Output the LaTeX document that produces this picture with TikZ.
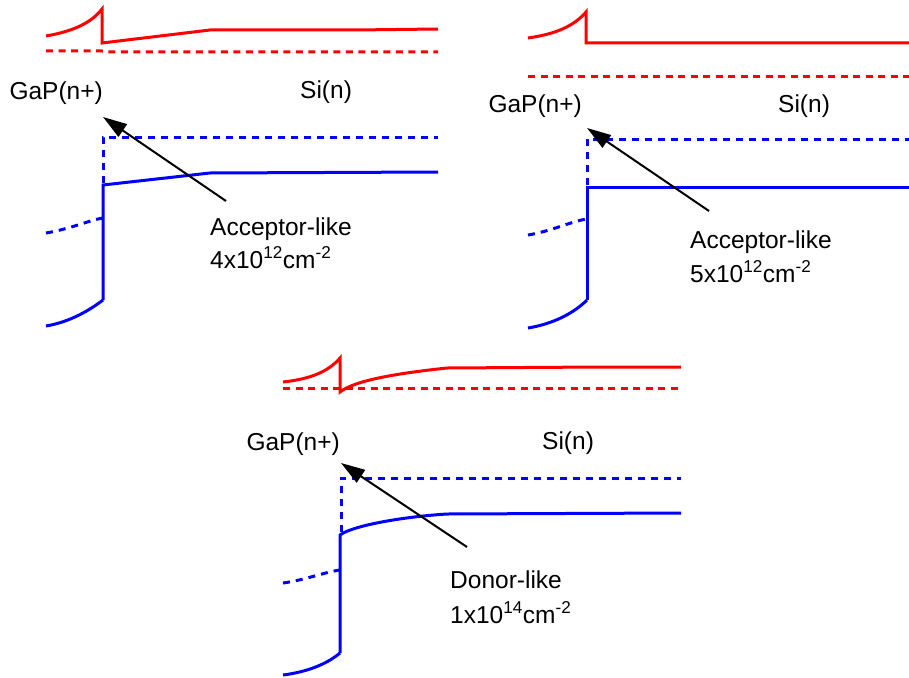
\documentclass[tikz,border=0pt]{standalone}
\usepackage{fontspec}
\setmainfont{Liberation Sans}
\usetikzlibrary{arrows.meta}
\tikzset{
  cb/.style={red, line width=3pt, line join=miter},
  cbd/.style={red, line width=3pt, dash pattern=on 7pt off 5.5pt},
  vb/.style={blue, line width=3pt},
  vbd/.style={blue, line width=3pt, dash pattern=on 7pt off 6pt},
  lbl/.style={inner sep=0pt, font=\fontsize{24.5}{29}\selectfont},
  ptr/.style={black, line width=2pt, -{Triangle[length=24pt,width=15pt]}}
}
\begin{document}
\begin{tikzpicture}[x=1pt,y=-1pt]
\useasboundingbox (0,0) rectangle (909,677);
% ---------------- Panel 1 ----------------
\draw[cb] (46,36) .. controls (75,31) and (92,22) .. (102,9) -- (102,43) -- (210,30) -- (355,30) -- (438,29);
\draw[cbd] (46,51) -- (102,51) -- (108,52) -- (438,52);
\draw[vbd] (103,183) -- (103,137) -- (438,137);
\draw[vb] (103,300) -- (103,185) -- (210,173) -- (438,172);
\draw[vbd] (46,233) .. controls (70,229) and (90,220) .. (103,218);
\draw[vb] (46,326) .. controls (70,322) and (90,310) .. (103,300);
\node[lbl, anchor=base east] (gap1) at (103,99) {GaP(n+)};
\node[lbl, anchor=base west] (si1) at (300,98) {Si(n)};
\node[lbl, anchor=base west] (acc1) at (210,235) {Acceptor-like};
\node[lbl, anchor=base west] (den1) at (210,268) {4x10\textsuperscript{12}cm\textsuperscript{-2}};
\coordinate (t1) at (226,201);
\coordinate (h1) at (103,117);
\draw[ptr] (t1) -- (h1);
% ---------------- Panel 2 ----------------
\draw[cb] (528,38) .. controls (556,34) and (574,26) .. (586,12) -- (586,43) -- (909,43);
\draw[cbd] (528,76) -- (909,76);
\draw[vbd] (587,185) -- (587,139) -- (909,139);
\draw[vb] (587,300) -- (587,187) -- (909,187);
\draw[vbd] (528,235) .. controls (552,231) and (572,221) .. (587,219);
\draw[vb] (528,328) .. controls (552,324) and (573,314) .. (587,300);
\node[lbl, anchor=base east] (gap2) at (582,112) {GaP(n+)};
\node[lbl, anchor=base west] (si2) at (778,112) {Si(n)};
\node[lbl, anchor=base west] (acc2) at (690,248) {Acceptor-like};
\node[lbl, anchor=base west] (den2) at (690,282) {5x10\textsuperscript{12}cm\textsuperscript{-2}};
\coordinate (t2) at (709,211);
\coordinate (h2) at (587,128);
\draw[ptr] (t2) -- (h2);
% ---------------- Panel 3 ----------------
\draw[cb] (283,382) .. controls (310,379) and (328,372) .. (340,358) -- (340,392) .. controls (355,380) and (400,373) .. (447,368) -- (600,367) -- (681,367);
\draw[cbd] (283,388) -- (681,388);
\draw[vbd] (341,532) -- (341,478) -- (681,478);
\draw[vb] (340,653) -- (340,535) .. controls (352,526) and (400,517) .. (447,514) -- (681,513);
\draw[vbd] (283,583) .. controls (305,580) and (325,572) .. (340,570);
\draw[vb] (283,675) .. controls (307,672) and (327,664) .. (340,653);
\node[lbl, anchor=base east] (gap3) at (340,450) {GaP(n+)};
\node[lbl, anchor=base west] (si3) at (542,449) {Si(n)};
\node[lbl, anchor=base west] (don3) at (450,588) {Donor-like};
\node[lbl, anchor=base west] (den3) at (450,623) {1x10\textsuperscript{14}cm\textsuperscript{-2}};
\coordinate (t3) at (467,547);
\coordinate (h3) at (341,463);
\draw[ptr] (t3) -- (h3);
\end{tikzpicture}
\end{document}
